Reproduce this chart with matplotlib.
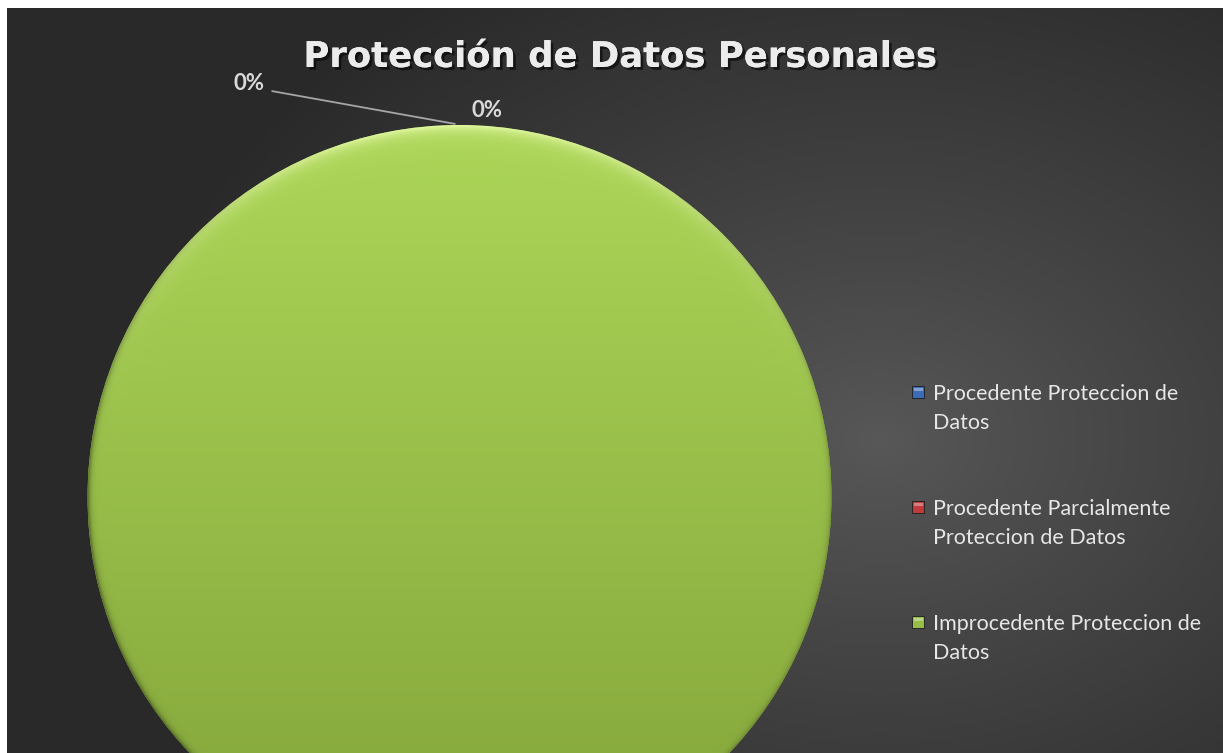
import numpy as np
import matplotlib
matplotlib.use("Agg")
import matplotlib.pyplot as plt
from matplotlib import patheffects as pe
from matplotlib.patches import Rectangle

# data
categories = ['Procedente Proteccion de Datos',
              'Procedente Parcialmente Proteccion de Datos',
              'Improcedente Proteccion de Datos']
legend_labels = ['Procedente Proteccion de\nDatos',
                 'Procedente Parcialmente\nProteccion de Datos',
                 'Improcedente Proteccion de\nDatos']
values = [0, 0, 1]
colors = ['#3b6cb7', '#c0393b', '#97bd47']
title = 'Protección de Datos Personales'

W, H = 1223, 753
fig = plt.figure(figsize=(W / 100, H / 100), dpi=100, facecolor='white')
ax = fig.add_axes([0, 0, 1, 1])

# dark radial background
yy, xx = np.mgrid[8:H, 7:W]
d = np.sqrt(((xx - 880) / 760.0) ** 2 + ((yy - 440) / 560.0) ** 2)
t = np.clip(d, 0, 1) ** 0.9
light = np.array([0x58, 0x58, 0x58]) / 255
dark = np.array([0x29, 0x29, 0x29]) / 255
bg = light[None, None, :] * (1 - t[..., None]) + dark[None, None, :] * t[..., None]
ax.imshow(bg, extent=[7, W, H, 8], zorder=0, interpolation='bilinear')

# pie
cx, cy, r = 459.5, 497.0, 372.0
wedges, _ = ax.pie(values, colors=colors, center=(cx, cy), radius=r,
                   startangle=90, counterclock=False,
                   wedgeprops=dict(linewidth=0))
for w in wedges:
    w.set_zorder(2)

# shaded fill for the visible slice
big = wedges[int(np.argmax(values))]
gy, gx = np.mgrid[cy - r:cy + r:1.0, cx - r:cx + r:1.0]
dist = np.sqrt((gx - cx) ** 2 + (gy - cy) ** 2)
edge = np.clip(r - dist, 0, None)
v = np.clip((gy - (cy - r)) / (2 * r), 0, 1)
top = np.array([0xac, 0xd6, 0x58]) / 255
bot = np.array([0x83, 0xa4, 0x3a]) / 255
img = top[None, None, :] * (1 - v[..., None]) + bot[None, None, :] * v[..., None]
up = np.clip(-(gy - cy) / r, 0, 1)
glow = np.exp(-edge / 7.0) * up ** 2
img = img + glow[..., None] * (np.array([0.93, 1.0, 0.70]) - img) * 0.8
shade = np.exp(-edge / 2.5) * (1 - up)
img = img * (1 - 0.35 * shade[..., None])
im = ax.imshow(np.clip(img, 0, 1), extent=[cx - r, cx + r, cy + r, cy - r],
               zorder=3, interpolation='bilinear')
im.set_clip_path(big)

# percentage labels for the zero slices
total = sum(values)
pcts = [f'{round(100 * v_ / total)}%' for v_ in values]
tx, ty = cx, cy - r
lab_style = dict(color='#d9d9d9', fontsize=16, fontweight='bold',
                 family=['Lato', 'DejaVu Sans'], zorder=5)
ax.text(tx + 28, ty - 15, pcts[0], ha='center', va='center', **lab_style)
ax.text(tx - 210, ty - 42, pcts[1], ha='center', va='center', **lab_style)
ax.plot([tx - 188, tx - 4], [ty - 34, ty - 1], color='#a6a6a6', lw=1.3,
        zorder=4, solid_capstyle='butt')

# title
ax.text(620, 57, title, ha='center', va='center', fontsize=25.5,
        fontweight='bold', color='#ececec',
        family=['DejaVu Sans'], zorder=6,
        path_effects=[pe.withSimplePatchShadow(offset=(2, -2),
                                               shadow_rgbFace='black',
                                               alpha=0.55),
                      pe.Normal()])

# legend
ly0, lstep = 392, 115
for i, (lab, c) in enumerate(zip(legend_labels, colors)):
    y = ly0 + i * lstep
    ax.add_patch(Rectangle((912, y - 6), 12, 12, facecolor=c,
                           edgecolor='#1c1c1c', lw=0.6, zorder=5))
    ax.add_patch(Rectangle((913.5, y - 4.5), 9, 3.5, facecolor='white',
                           alpha=0.35, lw=0, zorder=6))
    ax.text(933, y - 8, lab, ha='left', va='top', fontsize=15.5,
            color='#e6e6e6', family=['Lato', 'DejaVu Sans'],
            linespacing=1.55, zorder=5)

ax.set_xlim(0, W)
ax.set_ylim(H, 0)
ax.set_aspect('auto')
ax.axis('off')

fig.savefig('out.png', dpi=100, facecolor='white')
